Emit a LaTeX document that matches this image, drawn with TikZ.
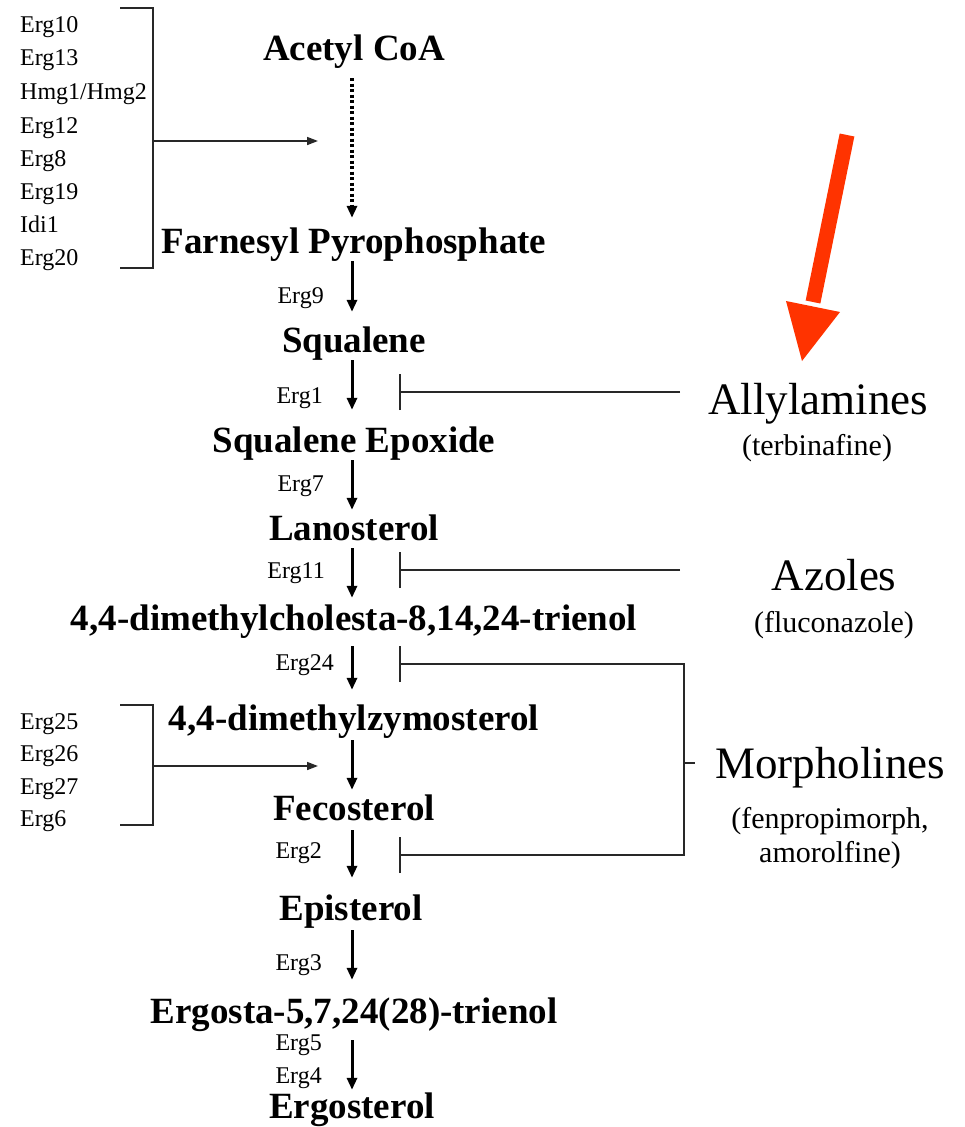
\documentclass[tikz,border=0pt]{standalone}
\usepackage{fontspec}
\setmainfont{Liberation Serif}
\usetikzlibrary{arrows.meta}
\definecolor{redarrow}{RGB}{255,51,0}
\definecolor{linegray}{RGB}{40,40,40}
\tikzset{
  metab/.style={font=\bfseries\fontsize{37}{40}\selectfont, inner sep=0pt, text height=26pt, text depth=8pt, anchor=base},
  gene/.style={font=\fontsize{24}{28}\selectfont, inner sep=0pt, anchor=base west},
  enz/.style={font=\fontsize{24}{28}\selectfont, inner sep=0pt, anchor=base east},
  drug/.style={font=\fontsize{45}{48}\selectfont, inner sep=0pt, anchor=base},
  drugsub/.style={font=\fontsize{30}{34}\selectfont, inner sep=0pt, anchor=base},
  mainarrow/.style={line width=3pt, -{Triangle[length=12pt,width=10pt]}},
  dotarrow/.style={line width=3.5pt, dash pattern=on 3pt off 2.5pt, -{Triangle[length=12pt,width=10pt]}},
  thin/.style={line width=1.6pt, draw=linegray},
  thinarrow/.style={thin, -{Triangle[length=11pt,width=8pt]}},
  inhib/.style={thin, -{Bar[width=36pt,line width=1.6pt]}},
}
\begin{document}
\begin{tikzpicture}[x=1pt,y=-1pt]
\useasboundingbox (0,0) rectangle (965,1127);
% metabolites
\node[metab] (acoa) at (354,60) {Acetyl CoA};
\node[metab] (fpp) at (354,253) {Farnesyl Pyrophosphate};
\node[metab] (sq) at (354,352) {Squalene};
\node[metab] (se) at (354,452) {Squalene Epoxide};
\node[metab] (lan) at (354,540) {Lanosterol};
\node[metab] (dmc) at (354,630) {4,4-dimethylcholesta-8,14,24-trienol};
\node[metab] (dmz) at (354,730) {4,4-dimethylzymosterol};
\node[metab] (fec) at (354,820) {Fecosterol};
\node[metab] (epi) at (351,920) {Episterol};
\node[metab] (ergt) at (354,1023) {Ergosta-5,7,24(28)-trienol};
\node[metab] (ergs) at (352,1118) {Ergosterol};
% main arrows
\draw[dotarrow, shorten <=10pt, shorten >=9pt] (acoa.south -| 352,0) -- (fpp.north -| 352,0);
\draw[mainarrow, shorten >=14pt] (fpp.south -| 352,0) -- (sq.north -| 352,0);
\draw[mainarrow, shorten >=16pt] (sq.south -| 352,0) -- (se.north -| 352,0);
\draw[mainarrow, shorten >=4pt] (se.south -| 352,0) -- (lan.north -| 352,0);
\draw[mainarrow, shorten >=6pt] (lan.south -| 352,0) -- (dmc.north -| 352,0);
\draw[mainarrow, shorten <=8pt, shorten >=14pt] (dmc.south -| 352,0) -- (dmz.north -| 352,0);
\draw[mainarrow, shorten <=2pt, shorten >=4pt] (dmz.south -| 352,0) -- (fec.north -| 352,0);
\draw[mainarrow, shorten <=2pt, shorten >=16pt] (fec.south -| 352,0) -- (epi.north -| 352,0);
\draw[mainarrow, shorten <=2pt, shorten >=17pt] (epi.south -| 352,0) -- (ergt.north -| 352,0);
\draw[mainarrow, shorten <=9pt, shorten >=2pt] (ergt.south -| 352,0) -- (ergs.north -| 352,0);
% enzyme labels
\node[enz] (e9) at (324,303) {Erg9};
\node[enz] (e1) at (323,403) {Erg1};
\node[enz] (e7) at (324,491) {Erg7};
\node[enz] (e11) at (325,578) {Erg11};
\node[enz] (e24) at (334,670) {Erg24};
\node[enz] (e2) at (322,858) {Erg2};
\node[enz] (e3) at (322,970) {Erg3};
\node[enz] (e5) at (322,1050) {Erg5};
\node[enz] (e4) at (322,1083) {Erg4};
% top gene group
\node[gene] (g1) at (20,32) {Erg10};
\node[gene] (g2) at (20,65) {Erg13};
\node[gene] (g3) at (20,99) {Hmg1/Hmg2};
\node[gene] (g4) at (20,133) {Erg12};
\node[gene] (g5) at (20,166) {Erg8};
\node[gene] (g6) at (20,199) {Erg19};
\node[gene] (g7) at (20,232) {Idi1};
\node[gene] (g8) at (20,265) {Erg20};
\coordinate (b1t) at (120,8);
\coordinate (b1b) at (120,268);
\coordinate (b1m) at (153,141);
\coordinate (b1e) at (318,141);
\draw[thin] (b1t) -- (153,8) -- (153,268) -- (b1b);
\draw[thinarrow] (b1m) -- (b1e);
% lower gene group
\node[gene] (h1) at (20,729) {Erg25};
\node[gene] (h2) at (20,761) {Erg26};
\node[gene] (h3) at (20,794) {Erg27};
\node[gene] (h4) at (20,826) {Erg6};
\coordinate (b2t) at (120,705);
\coordinate (b2b) at (120,825);
\coordinate (b2m) at (153,766);
\coordinate (b2e) at (318,766);
\draw[thin] (b2t) -- (153,705) -- (153,825) -- (b2b);
\draw[thinarrow] (b2m) -- (b2e);
% drugs
\node[drug] (allyl) at (818,414) {Allylamines};
\node[drugsub] (terb) at (817,455) {(terbinafine)};
\node[drug] (azol) at (834,590) {Azoles};
\node[drugsub] (fluc) at (834,632) {(fluconazole)};
\node[drug] (morph) at (830,778) {Morpholines};
\node[drugsub] (fenp) at (830,828) {(fenpropimorph,};
\node[drugsub] (amor) at (830,862) {amorolfine)};
% inhibition lines
\coordinate (iA) at (680,392);
\coordinate (tA) at (399,392);
\draw[inhib] (iA) -- (tA);
\coordinate (iB) at (680,570);
\coordinate (tB) at (399,570);
\draw[inhib] (iB) -- (tB);
\coordinate (tC) at (399,664);
\coordinate (tD) at (399,855);
\draw[thin, {Bar[width=36pt,line width=1.6pt]}-{Bar[width=36pt,line width=1.6pt]}] (tC) -- (684,664) -- (684,855) -- (tD);
\coordinate (mk) at (695,763);
\draw[thin] (684,763) -- (mk);
% red arrow
\coordinate (rs) at (847,135);
\coordinate (rtip) at (802,361);
\draw[redarrow, line width=15pt] (rs) -- (813,302);
\fill[redarrow] (786,301) -- (840,312) -- (rtip) -- cycle;
\end{tikzpicture}
\end{document}
